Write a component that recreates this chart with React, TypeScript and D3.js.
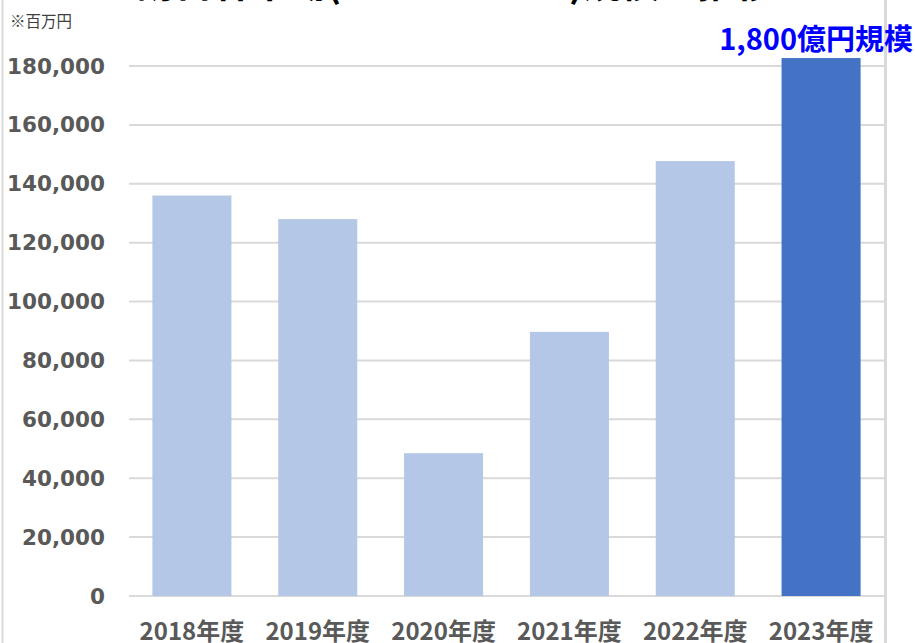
import React from "react";
import * as d3 from "d3";

const categories = ["2018年度", "2019年度", "2020年度", "2021年度", "2022年度", "2023年度"];
const values = [136000, 128000, 48500, 89700, 147700, 182700];
const highlight = [false, false, false, false, false, true];
const yTicks = [0, 20000, 40000, 60000, 80000, 100000, 120000, 140000, 160000, 180000];
const unitLabel = "※百万円";
const calloutLabel = "1,800億円規模";
const titleText = "訪日客市場(インバウンド)規模の推移";

export default function App() {
  const W = 915;
  const H = 643;
  const left = 129;
  const right = 884;
  const top = 66;
  const bottom = 596;

  const x = d3.scaleBand<string>().domain(categories).range([left, right]).paddingInner(0.372).paddingOuter(0.186);
  const y = d3.scaleLinear().domain([0, 180000]).range([bottom, top]);
  const fmt = d3.format(",");

  return (
    <svg width={W} height={H} style={{ position: "absolute", left: 0, top: 0, background: "#fff" }}>
      <rect x={0} y={0} width={W} height={H} fill="#fff" />
      <line x1={2.5} x2={2.5} y1={0} y2={H} stroke="#D9D9D9" strokeWidth={2} />
      <line x1={885.5} x2={885.5} y1={0} y2={H} stroke="#D9D9D9" strokeWidth={3} />
      <text x={455} y={-3} textAnchor="middle" fontFamily="'Noto Sans CJK JP'" fontWeight="bold" fontSize={38} fill="#000">
        {titleText}
      </text>
      <text x={10} y={20} fontFamily="'Noto Sans CJK JP'" fontSize={15.5} fill="#404040" dominantBaseline="central">
        {unitLabel}
      </text>
      {yTicks.map((t) => (
        <g key={t}>
          <line x1={left} x2={right} y1={y(t)} y2={y(t)} stroke="#D9D9D9" strokeWidth={2} />
          <text x={105} y={y(t)} textAnchor="end" dominantBaseline="central" fontFamily="'DejaVu Sans'" fontWeight="bold" fontSize={21.5} fill="#595959">
            {fmt(t)}
          </text>
        </g>
      ))}
      {categories.map((c, i) => (
        <rect key={c} x={x(c)} y={y(values[i])} width={x.bandwidth()} height={y(0) - y(values[i])} fill={highlight[i] ? "#4472C4" : "#B4C7E7"} />
      ))}
      {categories.map((c) => (
        <text key={c} x={(x(c) as number) + x.bandwidth() / 2} y={629} textAnchor="middle" dominantBaseline="central" fontFamily="'Noto Sans CJK JP'" fontWeight="bold" fontSize={24} fill="#595959">
          {c}
        </text>
      ))}
      <text x={913} y={37} textAnchor="end" dominantBaseline="central" fontFamily="'Noto Sans CJK JP'" fontWeight="bold" fontSize={29} fill="#0000FF">
        {calloutLabel}
      </text>
    </svg>
  );
}
